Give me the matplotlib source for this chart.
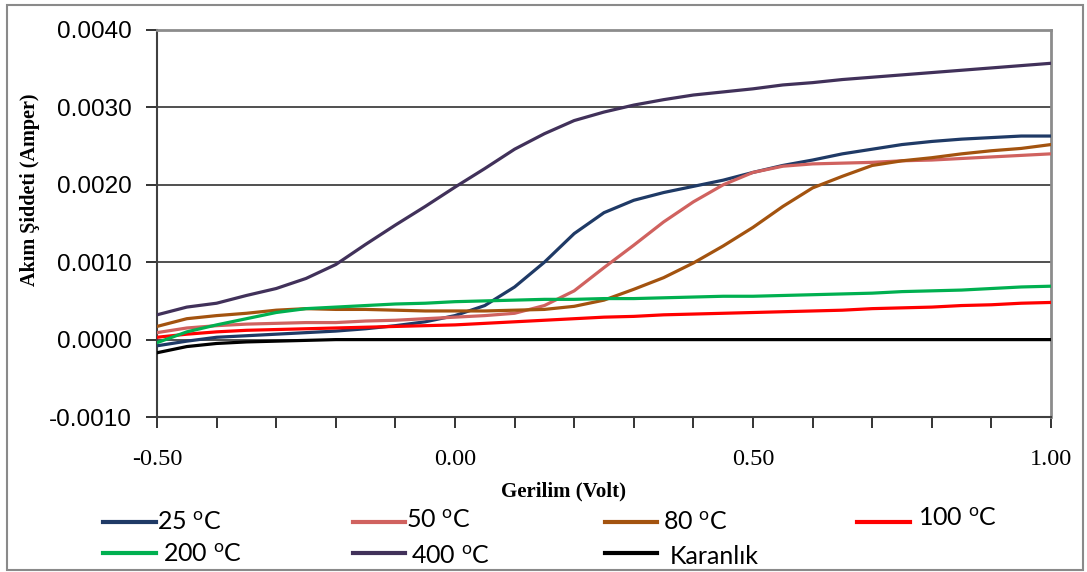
import matplotlib
matplotlib.use("Agg")
import matplotlib.pyplot as plt
import numpy as np
from matplotlib.lines import Line2D
from matplotlib.patches import Rectangle
from matplotlib.ticker import FixedLocator, FuncFormatter

plt.rcParams["axes.unicode_minus"] = False
plt.rcParams["mathtext.fontset"] = "custom"
plt.rcParams["mathtext.rm"] = "Lato"

# Applied voltage (V)
voltage = [-0.50, -0.45, -0.40, -0.35, -0.30, -0.25, -0.20, -0.15, -0.10, -0.05,
           0.00, 0.05, 0.10, 0.15, 0.20, 0.25, 0.30, 0.35, 0.40, 0.45,
           0.50, 0.55, 0.60, 0.65, 0.70, 0.75, 0.80, 0.85, 0.90, 0.95, 1.00]

# Measured current (mA) for each annealing temperature and in the dark
i_25 = [-0.08, -0.02, 0.03, 0.05, 0.07, 0.09, 0.11, 0.14, 0.18, 0.23,
        0.31, 0.44, 0.68, 1.00, 1.37, 1.64, 1.80, 1.90, 1.98, 2.06,
        2.16, 2.25, 2.32, 2.40, 2.46, 2.52, 2.56, 2.59, 2.61, 2.63, 2.63]
i_50 = [0.09, 0.15, 0.18, 0.20, 0.21, 0.22, 0.22, 0.24, 0.25, 0.27,
        0.29, 0.31, 0.34, 0.44, 0.63, 0.93, 1.22, 1.52, 1.78, 2.00,
        2.16, 2.24, 2.27, 2.28, 2.29, 2.31, 2.32, 2.34, 2.36, 2.38, 2.40]
i_80 = [0.17, 0.27, 0.31, 0.34, 0.38, 0.40, 0.39, 0.39, 0.38, 0.37,
        0.37, 0.37, 0.38, 0.39, 0.43, 0.51, 0.65, 0.80, 0.99, 1.21,
        1.45, 1.72, 1.96, 2.11, 2.25, 2.31, 2.35, 2.40, 2.44, 2.47, 2.52]
i_100 = [0.03, 0.07, 0.10, 0.12, 0.13, 0.14, 0.15, 0.16, 0.17, 0.18,
         0.19, 0.21, 0.23, 0.25, 0.27, 0.29, 0.30, 0.32, 0.33, 0.34,
         0.35, 0.36, 0.37, 0.38, 0.40, 0.41, 0.42, 0.44, 0.45, 0.47, 0.48]
i_200 = [-0.04, 0.10, 0.19, 0.27, 0.35, 0.40, 0.42, 0.44, 0.46, 0.47,
         0.49, 0.50, 0.51, 0.52, 0.52, 0.53, 0.53, 0.54, 0.55, 0.56,
         0.56, 0.57, 0.58, 0.59, 0.60, 0.62, 0.63, 0.64, 0.66, 0.68, 0.69]
i_400 = [0.32, 0.42, 0.47, 0.57, 0.66, 0.79, 0.97, 1.23, 1.48, 1.72,
         1.97, 2.21, 2.46, 2.66, 2.83, 2.94, 3.03, 3.10, 3.16, 3.20,
         3.24, 3.29, 3.32, 3.36, 3.39, 3.42, 3.45, 3.48, 3.51, 3.54, 3.57]
i_dark = [-0.17, -0.09, -0.05, -0.03, -0.02, -0.01, 0.00, 0.00, 0.00, 0.00,
          0.00, 0.00, 0.00, 0.00, 0.00, 0.00, 0.00, 0.00, 0.00, 0.00,
          0.00, 0.00, 0.00, 0.00, 0.00, 0.00, 0.00, 0.00, 0.00, 0.00, 0.00]

labels = ["25 $^{\\mathrm{o}}$C", "50 $^{\\mathrm{o}}$C", "80 $^{\\mathrm{o}}$C",
          "100 $^{\\mathrm{o}}$C", "200 $^{\\mathrm{o}}$C", "400 $^{\\mathrm{o}}$C",
          "Karanlık"]
colors = ["#1f3a66", "#d0625f", "#a3530f", "#ff0000", "#00b050", "#41315a", "#000000"]
currents = [i_25, i_50, i_80, i_100, i_200, i_400, i_dark]

y_ticks = [-0.0010, 0.0000, 0.0010, 0.0020, 0.0030, 0.0040]
x_ticks = [-0.50, 0.00, 0.50, 1.00]
x_minor = [-0.40, -0.30, -0.20, -0.10, 0.10, 0.20, 0.30, 0.40,
           0.60, 0.70, 0.80, 0.90]

W, H = 1087, 572
fig = plt.figure(figsize=(W / 100, H / 100), dpi=100)
ax = fig.add_axes([157 / W, 1 - 417 / H, (1051 - 157) / W, (417 - 30) / H])

# horizontal grid
for g in [0.0, 0.001, 0.002, 0.003]:
    ax.axhline(g, color="#505050", lw=1.4, zorder=1)

for vals, c in zip(currents, colors):
    ax.plot(voltage, np.array(vals) * 1e-3, color=c, lw=2.3, zorder=3)

ax.set_xlim(-0.5, 1.0)
ax.set_ylim(-0.001, 0.004)
ax.set_yticks(y_ticks)
ax.yaxis.set_major_formatter(FuncFormatter(lambda v, p: f"{v:.4f}"))
ax.set_xticks(x_ticks)
ax.xaxis.set_major_formatter(FuncFormatter(lambda v, p: f"{v:.2f}"))
ax.xaxis.set_minor_locator(FixedLocator(x_minor))

ax.tick_params(axis="both", which="both", direction="out", length=8,
               width=1.4, color="#333333")
ax.tick_params(axis="y", pad=10)
ax.tick_params(axis="x", pad=15)
for t in ax.get_yticklabels():
    t.set_fontfamily("Liberation Sans")
    t.set_fontsize(17.5)
for t in ax.get_xticklabels():
    t.set_fontfamily("Liberation Serif")
    t.set_fontsize(17.5)

for s in ["left", "bottom"]:
    ax.spines[s].set_color("#404040")
    ax.spines[s].set_linewidth(1.5)
for s in ["top", "right"]:
    ax.spines[s].set_color("#8c8c8c")
    ax.spines[s].set_linewidth(2)

fig.text(563 / W, 1 - 491 / H, "Gerilim (Volt)", ha="center", va="center",
         fontfamily="Liberation Serif", fontweight="bold", fontsize=15)
fig.text(30 / W, 1 - 190 / H, "Akım Şiddeti (Amper)", ha="center", va="center",
         rotation=90, fontfamily="Liberation Serif", fontweight="bold", fontsize=14.5)

# legend entries below the plot
legend_layout = [
    (103, 156, 522, 157, 522),
    (353, 405, 522, 406, 521),
    (605, 657, 522, 663, 522),
    (857, 910, 522, 918, 518),
    (103, 156, 553, 163, 554),
    (353, 405, 553, 411, 557),
    (605, 657, 553, 670, 557),
]
for (x0, x1, yl, xt, yt), lab, c in zip(legend_layout, labels, colors):
    fig.add_artist(Line2D([x0 / W, x1 / W], [1 - yl / H, 1 - yl / H],
                          color=c, lw=3, transform=fig.transFigure))
    fig.text(xt / W, 1 - yt / H, lab, ha="left", va="center",
             fontfamily="Lato", fontsize=18)

fig.add_artist(Rectangle((7 / W, 1 - 570 / H), (1083 - 7) / W, (570 - 5) / H,
                         transform=fig.transFigure, fill=False,
                         ec="#8a8a8a", lw=1.5))

fig.savefig("out.png", dpi=100)
